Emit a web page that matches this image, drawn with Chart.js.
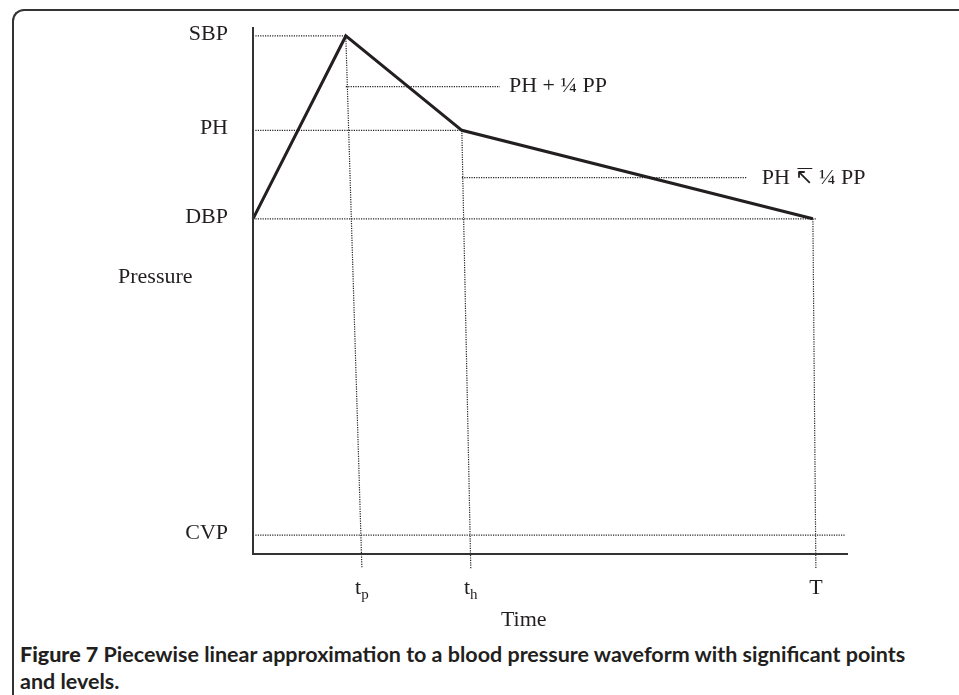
<!DOCTYPE html>
<html>
<head>
<meta charset="utf-8">
<script src="https://cdn.jsdelivr.net/npm/chart.js@4.4.0/dist/chart.umd.min.js"></script>
<style>
  html, body { margin: 0; padding: 0; background: #fff; }
  #wrap { position: relative; width: 959px; height: 695px; overflow: hidden; }
  #frame {
    position: absolute; left: 12px; top: 9px; width: 980px; height: 720px;
    border-left: 2px solid #333; border-top: 2px solid #333;
    border-top-left-radius: 12px;
  }
  #chartBox { position: absolute; left: 0; top: 0; width: 959px; height: 640px; }
  #caption {
    position: absolute; left: 20px; top: 641px; width: 935px;
    font-family: Lato, "Open Sans", sans-serif; font-weight: 700;
    font-size: 21.5px; line-height: 27px; color: #231f20; white-space: nowrap;
  }
</style>
</head>
<body>
<div id="wrap">
  <div id="frame"></div>
  <div id="chartBox"><canvas id="bpChart" width="959" height="640"></canvas></div>
  <div id="caption"><b>Figure 7</b> Piecewise linear approximation to a blood pressure waveform with significant points<br>and levels.</div>
</div>
<script>
// pressure levels (axis 0..100)
const levelNames = ['SBP', 'PH', 'DBP', 'CVP'];
const levelValues = [98.3, 80.4, 63.6, 3.6];
const phPlus = 88.7;   // PH + 1/4 PP
const phMinus = 71.4;  // PH - 1/4 PP

// time points (axis 0..100)
const tp = 15.6, th = 35.1, tEnd = 94.1;
const tickTimes = [18.3, 36.6, 94.6]; // where the dotted drops end, under the axis
const tickLabels = [['t', 'p'], ['t', 'h'], ['T', '']];
const dropBottom = -2.7;

// waveform
const waveTimes = [0, tp, th, tEnd];
const waveValues = [levelValues[2], levelValues[0], levelValues[1], levelValues[2]];

// dotted guide ends
const guideStart = 0.4;
const phPlusEnd = 41.5, phMinusEnd = 83.0, dbpEnd = 94.8, cvpEnd = 99.5;

const pts = (xs, ys) => xs.map((x, i) => ({ x: x, y: ys[i] }));

function guide(xs, ys) {
  return {
    data: pts(xs, ys),
    showLine: true,
    borderColor: '#222',
    borderWidth: 1.2,
    borderDash: [1.2, 1.2],
    pointRadius: 0,
    clip: false
  };
}

const datasets = [
  guide([guideStart, tp], [levelValues[0], levelValues[0]]),
  guide([guideStart, th], [levelValues[1], levelValues[1]]),
  guide([guideStart, dbpEnd], [levelValues[2], levelValues[2]]),
  guide([guideStart, cvpEnd], [levelValues[3], levelValues[3]]),
  guide([tp, phPlusEnd], [phPlus, phPlus]),
  guide([th, phMinusEnd], [phMinus, phMinus]),
  guide([tp, tickTimes[0]], [levelValues[0], dropBottom]),
  guide([th, tickTimes[1]], [levelValues[1], dropBottom]),
  guide([tEnd, tickTimes[2]], [levelValues[2], dropBottom]),
  {
    data: pts(waveTimes, waveValues),
    showLine: true,
    borderColor: '#231f20',
    borderWidth: 3,
    pointRadius: 0,
    clip: false
  }
];

const serif = '"Liberation Serif", "Times New Roman", serif';

const labelsPlugin = {
  id: 'labels',
  afterDraw(chart) {
    const ctx = chart.ctx;
    const xs = chart.scales.x, ys = chart.scales.y;
    const x0 = xs.getPixelForValue(0), x1 = xs.getPixelForValue(100);
    const y0 = ys.getPixelForValue(0), y1 = ys.getPixelForValue(100);
    ctx.save();
    // axes
    ctx.strokeStyle = '#333';
    ctx.lineWidth = 2;
    ctx.beginPath();
    ctx.moveTo(x0, y1);
    ctx.lineTo(x0, y0);
    ctx.lineTo(x1, y0);
    ctx.stroke();

    ctx.fillStyle = '#231f20';
    ctx.font = '22px ' + serif;
    ctx.textBaseline = 'middle';
    ctx.textAlign = 'right';
    levelNames.forEach((name, i) => {
      ctx.fillText(name, x0 - 25, ys.getPixelForValue(levelValues[i]) - 2);
    });
    ctx.textAlign = 'left';
    ctx.fillText('Pressure', x0 - 135, 277);
    ctx.fillText('PH + \u00bc PP', xs.getPixelForValue(phPlusEnd) + 9, ys.getPixelForValue(phPlus));
    ctx.fillText('PH \u21b8 \u00bc PP', xs.getPixelForValue(phMinusEnd) + 15, ys.getPixelForValue(phMinus));

    // time ticks
    ctx.textBaseline = 'alphabetic';
    tickLabels.forEach((lab, i) => {
      const px = xs.getPixelForValue(tickTimes[i]);
      ctx.font = '22px ' + serif;
      const w1 = ctx.measureText(lab[0]).width;
      ctx.font = '15px ' + serif;
      const w2 = lab[1] ? ctx.measureText(lab[1]).width : 0;
      const left = px - (w1 + w2) / 2;
      ctx.font = '22px ' + serif;
      ctx.fillText(lab[0], left, y0 + 40);
      if (lab[1]) {
        ctx.font = '15px ' + serif;
        ctx.fillText(lab[1], left + w1, y0 + 45);
      }
    });
    ctx.font = '22px ' + serif;
    ctx.textAlign = 'center';
    ctx.fillText('Time', xs.getPixelForValue(45.5), y0 + 72);
    ctx.restore();
  }
};

new Chart(document.getElementById('bpChart'), {
  type: 'scatter',
  data: { datasets: datasets },
  options: {
    responsive: false,
    animation: false,
    layout: { padding: { left: 253, right: 111, top: 27, bottom: 86 } },
    plugins: { legend: { display: false }, tooltip: { enabled: false } },
    scales: {
      x: { type: 'linear', min: 0, max: 100, display: false },
      y: { type: 'linear', min: 0, max: 100, display: false }
    }
  },
  plugins: [labelsPlugin]
});
</script>
</body>
</html>
